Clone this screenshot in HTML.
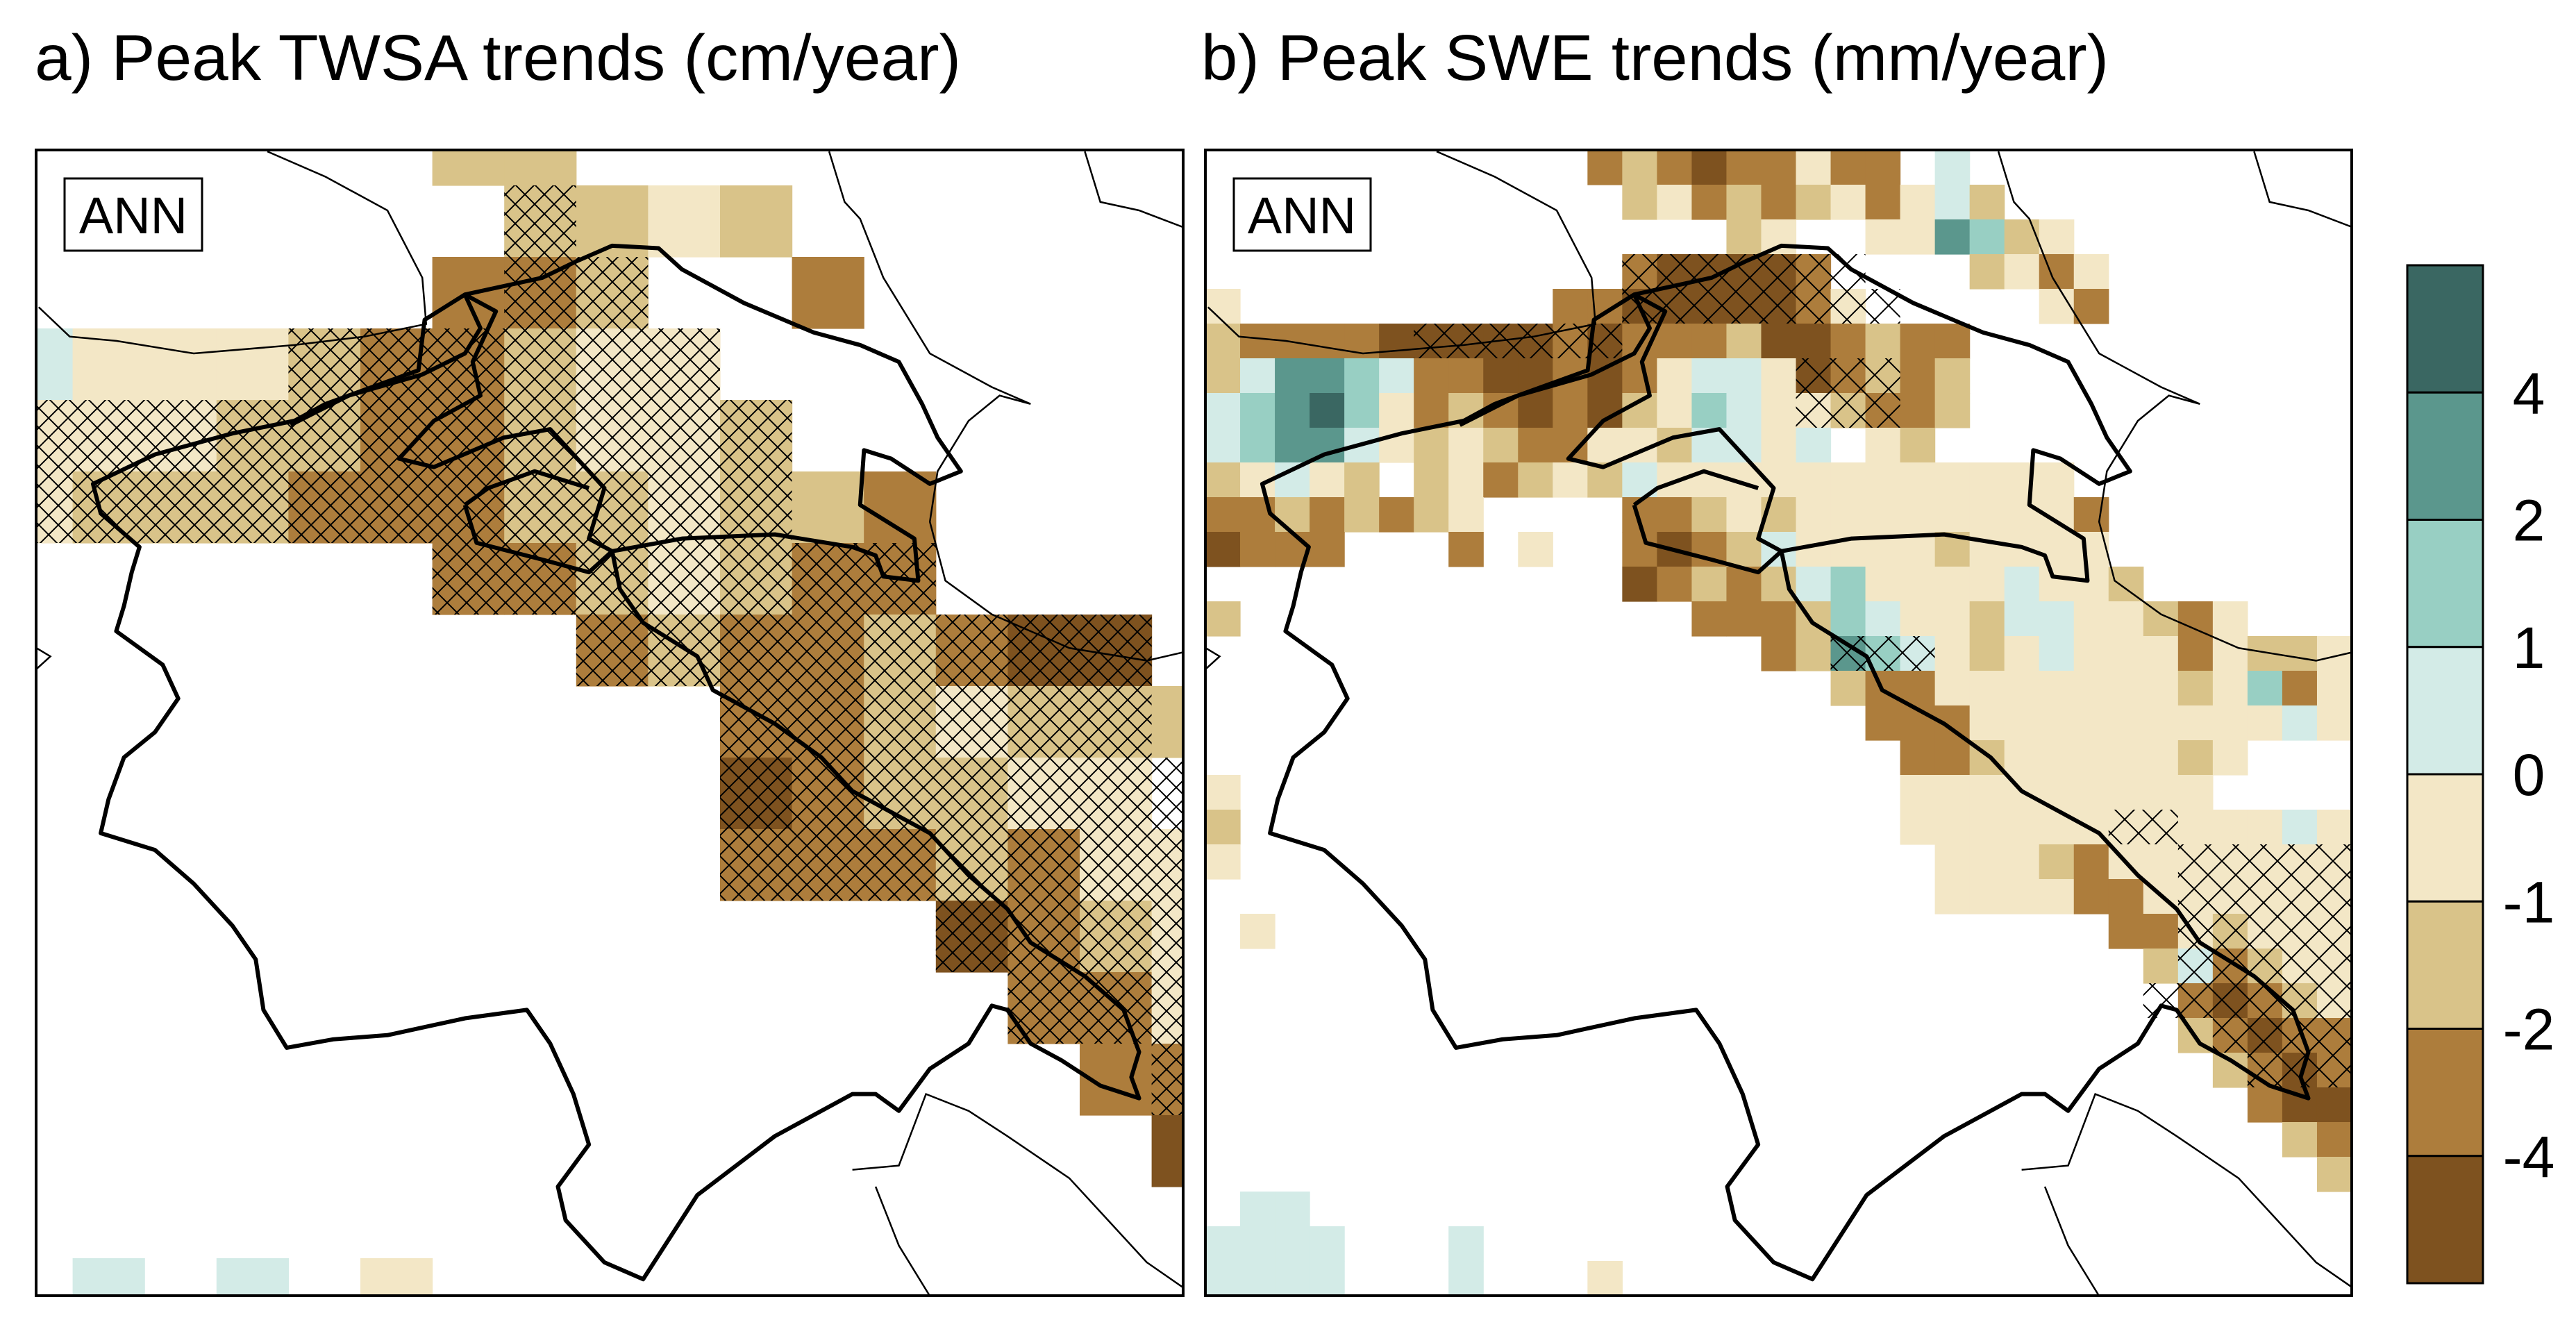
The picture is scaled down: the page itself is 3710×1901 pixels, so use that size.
<!DOCTYPE html>
<html><head><meta charset="utf-8">
<style>
html,body{margin:0;padding:0;background:#fff;}
svg{display:block;font-family:"Liberation Sans",sans-serif;}
</style></head>
<body>
<svg id="fig" width="3710" height="1901" viewBox="0 0 3710 1901" xmlns="http://www.w3.org/2000/svg">
<defs>
  <pattern id="hatchA" patternUnits="userSpaceOnUse" width="28" height="28">
    <path d="M0,0 L28,28 M28,0 L0,28" stroke="#000" stroke-width="2" fill="none"/>
  </pattern>
  <pattern id="hatchB" patternUnits="userSpaceOnUse" width="40" height="40">
    <path d="M0,0 L40,40 M40,0 L0,40" stroke="#000" stroke-width="2" fill="none"/>
  </pattern>
  <clipPath id="clipL"><rect x="52" y="216" width="1652" height="1650"/></clipPath>
  <clipPath id="clipR"><rect x="1736" y="216" width="1651" height="1650"/></clipPath>
  <g id="geo">
    <g fill="none" stroke="#000" stroke-width="6" stroke-linejoin="round">
      <path vector-effect="non-scaling-stroke" d="M120,575 L200,540 L300,515 L380,500 L420,480 L540,440 L548,380 L600,350 L700,330 L745,310 L790,292 L850,295 L880,320 L960,360 L1050,395 L1110,410 L1160,430 L1190,480 L1210,520 L1240,560 L1200,575 L1150,545 L1115,535 L1110,600 L1180,640 L1185,690 L1140,685 L1130,660 L1100,650 L1000,635 L880,640 L790,655 L800,700 L830,740 L900,780 L920,820 L1000,860 L1060,900 L1100,940 L1200,990 L1250,1040 L1300,1080 L1330,1120 L1400,1160 L1450,1200 L1470,1250 L1460,1280 L1470,1305 L1420,1290 L1370,1260 L1330,1240 L1300,1200 L1280,1195 L1250,1240 L1200,1270 L1160,1320 L1130,1300 L1100,1300 L1000,1350 L900,1420 L830,1520 L780,1500 L730,1450 L720,1410 L760,1360 L740,1300 L710,1240 L680,1200 L600,1210 L500,1230 L430,1235 L370,1245 L340,1200 L330,1140 L300,1100 L250,1050 L200,1010 L130,990 L140,950 L160,900 L200,870 L230,830 L210,790 L150,750 L160,720 L170,680 L180,650 L130,610 Z"/>
      <path vector-effect="non-scaling-stroke" d="M375,505 L450,470 L545,445 L600,420 L620,390 L600,350"/>
      <path vector-effect="non-scaling-stroke" d="M600,350 L640,370 L610,430 L620,470 L560,500 L515,545 L560,555 L650,520 L710,510 L740,540 L780,580 L770,610 L760,640 L790,655"/>
      <path vector-effect="non-scaling-stroke" d="M600,600 L630,580 L690,560 L760,580"/>
      <path vector-effect="non-scaling-stroke" d="M600,600 L615,645 L700,665 L760,680 L790,655"/>
    </g>
    <g fill="none" stroke="#000" stroke-width="2.5">
      <path vector-effect="non-scaling-stroke" d="M345,180 L420,210 L500,250 L545,330 L550,385 L470,400 L380,410 L250,420 L150,405 L90,400 L50,365"/>
      <path vector-effect="non-scaling-stroke" d="M1070,180 L1090,240 L1110,260 L1140,330 L1200,420 L1280,460 L1330,480 L1290,470 L1250,500 L1210,560 L1200,620 L1220,690 L1280,730 L1380,770 L1480,785 L1527,775"/>
      <path vector-effect="non-scaling-stroke" d="M1400,180 L1420,240 L1470,250 L1527,270"/>
      <path vector-effect="non-scaling-stroke" d="M47,770 L65,780 L47,795"/>
      <path vector-effect="non-scaling-stroke" d="M1100,1390 L1160,1385 L1195,1300 L1250,1320 L1300,1350 L1380,1400 L1430,1450 L1480,1500 L1527,1530"/>
      <path vector-effect="non-scaling-stroke" d="M1130,1410 L1160,1480 L1200,1540"/>
    </g>
  </g>
</defs>

<text x="50" y="115" font-size="93" textLength="1334" lengthAdjust="spacingAndGlyphs">a) Peak TWSA trends (cm/year)</text>
<text x="1730" y="115" font-size="93" textLength="1307" lengthAdjust="spacingAndGlyphs">b) Peak SWE trends (mm/year)</text>

<g id="panelA" clip-path="url(#clipL)"></g>
<g id="panelB" clip-path="url(#clipR)"></g>

<g clip-path="url(#clipL)">
  <use href="#geo" transform="scale(1.116,1.212)"/>
</g>
<g clip-path="url(#clipR)">
  <use href="#geo" transform="translate(1684,0) scale(1.116,1.212)"/>
</g>

<rect x="52" y="216" width="1652" height="1650" fill="none" stroke="#000" stroke-width="4"/>
<rect x="1736" y="216" width="1651" height="1650" fill="none" stroke="#000" stroke-width="4"/>

<g>
  <rect x="93" y="257" width="198" height="104" fill="#fff" stroke="#000" stroke-width="3"/>
  <text x="192" y="336" font-size="74" text-anchor="middle">ANN</text>
</g>
<g>
  <rect x="1777" y="257" width="197" height="104" fill="#fff" stroke="#000" stroke-width="3"/>
  <text x="1875" y="336" font-size="74" text-anchor="middle">ANN</text>
</g>

<g id="cbar"></g>
</svg>

<script>
const levelColors = {D:'#3a6762',U:'#5b978d',u:'#98cfc3',t:'#d3ebe7',a:'#f3e7c6',b:'#d9c389',c:'#ad7d3c',d:'#7e521f'};
const cbarOrder = ['D','U','u','t','a','b','c','d'];
const cbarTicks = ['4','2','1','0','-1','-2','-4'];

const twsaGrid = [
"......bb.........",
".......bbab......",
"......ccb..c.....",
"taaabccbaa.......",
"aaabbccbaab......",
"abbbcccbbabbc....",
"......ccbabcc....",
"........cbccbcdd.",
"..........ccbabbb",
"..........dcbbaa.",
"..........cccbcaa",
".............dcba",
"..............cca",
"...............cc",
"................d",
".................",
".t.t.a..........."
];
const twsaHatch = [
[],[7,7],[7,8],[4,9],[0,10],[0,10],[6,12],[8,15],[10,15],[10,16],[10,16],[13,16],[14,16],[16,16],[],[],[]
];

const sweGrid = [
"...........cbcdccacc.t",
"............bacbcbacatb",
"...............ba..aaUuba",
"............cddddc....baca",
"a.........ccdddddca.....ac",
"bccccdddddcdcccbddcbcc",
"btUUutccddcdcattadcbcb",
"tuUDuacbcdcdbautaabccb",
"tuUUtababccaabttat.ab",
"batab.bacbabtaaaaaaaaaaaa",
"ccbcbcba....ccbabaaaaaaaac",
"dccc...c.a..cdcbtaaaabaaaa",
"............dcbcbtuaaaataab",
"b.............cccbutaabttaabca",
"................cbUutabataaacabba",
"..................bccaaaaaaabauca",
"...................cccaaaaaaaaata",
"....................ccbaaaaaba",
"a...................aaaaaaaaa",
"b...................aaaaaaaaaaata",
"a....................aaabcaaaaaaa",
".....................aaaaccaaaaaa",
".a........................ccabaaa",
"...........................btcbaa",
"............................cdcba",
"............................bcdcc",
".............................bcdc",
"..............................cdd",
"...............................bc",
"................................b",
".tt",
"tttt...t",
"tttt...t...a"
];
const sweHatch = [
[],[],[],[12,18],[12,19],[6,11],[17,19],[17,19],[],[],[],[],[],[],[18,20],[],[],[],[],[26,27],[28,32],[28,32],[28,32],[28,32],[27,32],[29,32],[30,32],[],[],[],[],[],[]
];

const NS='http://www.w3.org/2000/svg';
function mk(tag, attrs){const e=document.createElementNS(NS,tag);for(const k in attrs)e.setAttribute(k,attrs[k]);return e;}

function drawGrid(g, grid, hatch, x0, y0, cw, ch, pat, label){
  grid.forEach((row,r)=>{
    for(let c=0;c<row.length;c++){
      const k=row[c];
      if(levelColors[k]){
        const el=mk('rect',{x:x0+c*cw,y:y0+r*ch,width:cw+0.6,height:ch+0.6,fill:levelColors[k]});
        
        
        g.appendChild(el);
      }
    }
  });
  hatch.forEach((h,r)=>{
    if(h.length===2){
      const el=mk('rect',{x:x0+h[0]*cw,y:y0+r*ch,width:(h[1]-h[0]+1)*cw,height:ch,fill:'url(#'+pat+')'});
      
      
      g.appendChild(el);
    }
  });
}
drawGrid(document.getElementById('panelA'), twsaGrid, twsaHatch, 1, 164, 103.6, 103, 'hatchA', 'twsa');
drawGrid(document.getElementById('panelB'), sweGrid, sweHatch, 1736, 216, 50.03, 50, 'hatchB', 'swe');

const cb=document.getElementById('cbar');
const cbX=3467, cbW=109, cbY=382, cbH=1466, segH=cbH/cbarOrder.length;
cbarOrder.forEach((k,i)=>{
  const el=mk('rect',{x:cbX,y:cbY+i*segH,width:cbW,height:segH,fill:levelColors[k],stroke:'#000','stroke-width':3});
  
  
  cb.appendChild(el);
});
cbarTicks.forEach((t,i)=>{
  const el=mk('text',{x:3642,y:cbY+(i+1)*segH+30,'font-size':84,'text-anchor':'middle'});
  el.textContent=t;
  
  
  cb.appendChild(el);
});
</script>
</body></html>
